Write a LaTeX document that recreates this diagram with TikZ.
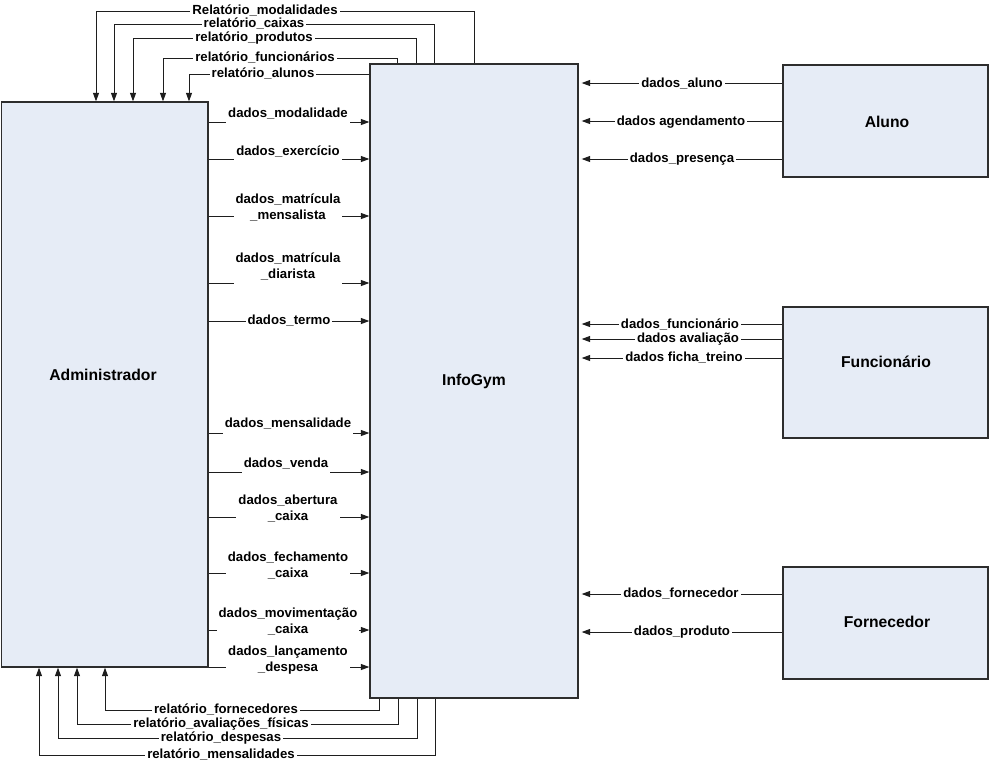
\documentclass[tikz,border=0pt]{standalone}
\usepackage{fontspec}
\setmainfont{Liberation Sans}
\usetikzlibrary{arrows.meta}
\definecolor{boxfill}{RGB}{230,236,246}
\definecolor{boxline}{RGB}{45,45,45}
\definecolor{wire}{RGB}{30,30,30}
\begin{document}
\begin{tikzpicture}[x=1pt,y=-1pt,
  entity/.style={draw=boxline, fill=boxfill, line width=1.3pt, inner sep=0pt},
  entname/.style={font=\fontsize{15.7}{18}\selectfont\bfseries, inner sep=0pt},
  flow/.style={draw=wire, line width=1pt, -{Triangle[length=8.5pt,width=6pt]}},
  lbl/.style={font=\fontsize{13.2}{16}\selectfont\bfseries, fill=white, inner xsep=2pt, inner ysep=0.5pt, anchor=base},
  lbldeep/.style={lbl, text depth=8pt},
  lbltwo/.style={font=\fontsize{13.2}{16}\selectfont\bfseries, fill=white, inner xsep=2pt, inner ysep=4pt, align=center, anchor=center},
]
\useasboundingbox (0,0) rectangle (992,764);

% entities and the system
\node[entity, minimum width=206.5pt, minimum height=565pt] (adm) at (104.75,384.5) {};
\node[entity, minimum width=208pt, minimum height=634pt] (info) at (474,381) {};
\node[entity, minimum width=205pt, minimum height=112pt] (aluno) at (885.5,121) {};
\node[entity, minimum width=205pt, minimum height=131pt] (func) at (885.5,372.5) {};
\node[entity, minimum width=205pt, minimum height=112pt] (forn) at (885.5,623) {};

\node[entname] (admname) at (103,375) {Administrador};
\node[entname] (infoname) at (474,381) {InfoGym};
\node[entname] (alunoname) at (887,121.5) {Aluno};
\node[entname] (funcname) at (886,362) {Funcionário};
\node[entname] (fornname) at (887,622) {Fornecedor};

% Administrador -> InfoGym
\draw[flow] (adm.east |- 0,122) -- (info.west |- 0,122) node[lbldeep] at (288,117) {dados\_modalidade};
\draw[flow] (adm.east |- 0,159) -- (info.west |- 0,159) node[lbldeep] at (288,155) {dados\_exercício};
\draw[flow] (adm.east |- 0,216) -- (info.west |- 0,216) node[lbltwo] at (288,207.5) {dados\_matrícula\\\_mensalista};
\draw[flow] (adm.east |- 0,283) -- (info.west |- 0,283) node[lbltwo] at (288,266.5) {dados\_matrícula\\\_diarista};
\draw[flow] (adm.east |- 0,321) -- (info.west |- 0,321) node[lbl] at (289,324.5) {dados\_termo};
\draw[flow] (adm.east |- 0,433) -- (info.west |- 0,433) node[lbldeep] at (288,427) {dados\_mensalidade};
\draw[flow] (adm.east |- 0,472) -- (info.west |- 0,472) node[lbldeep] at (286,467) {dados\_venda};
\draw[flow] (adm.east |- 0,517) -- (info.west |- 0,517) node[lbltwo] at (288,508.5) {dados\_abertura\\\_caixa};
\draw[flow] (adm.east |- 0,573) -- (info.west |- 0,573) node[lbltwo] at (288,565.5) {dados\_fechamento\\\_caixa};
\draw[flow] (adm.east |- 0,630) -- (info.west |- 0,630) node[lbltwo] at (288,621.5) {dados\_movimentação\\\_caixa};
\draw[flow] (adm.east |- 0,667) -- (info.west |- 0,667) node[lbltwo] at (288,660.5) {dados\_lançamento\\\_despesa};

% external entities -> InfoGym
\draw[flow, shorten >=3pt] (aluno.west |- 0,83) -- (info.east |- 0,83) node[lbl] at (682,87) {dados\_aluno};
\draw[flow, shorten >=3pt] (aluno.west |- 0,121) -- (info.east |- 0,121) node[lbl] at (681,125) {dados agendamento};
\draw[flow, shorten >=3pt] (aluno.west |- 0,159) -- (info.east |- 0,159) node[lbl] at (682,162.5) {dados\_presença};
\draw[flow, shorten >=3pt] (func.west |- 0,324) -- (info.east |- 0,324) node[lbl] at (680,328) {dados\_funcionário};
\draw[flow, shorten >=3pt] (func.west |- 0,339) -- (info.east |- 0,339) node[lbl] at (688,342.5) {dados avaliação};
\draw[flow, shorten >=3pt] (func.west |- 0,358) -- (info.east |- 0,358) node[lbl] at (684,361.5) {dados ficha\_treino};
\draw[flow, shorten >=3pt] (forn.west |- 0,594) -- (info.east |- 0,594) node[lbl] at (681,597.5) {dados\_fornecedor};
\draw[flow, shorten >=3pt] (forn.west |- 0,632) -- (info.east |- 0,632) node[lbl] at (682,635.5) {dados\_produto};

% reports back to Administrador, over the top
\draw[flow] (info.north -| 474,0) -- (474,11) -| (adm.north -| 96,0) node[lbl] at (265,14.5) {Relatório\_modalidades};
\draw[flow] (info.north -| 434,0) -- (434,24) -| (adm.north -| 114,0) node[lbl] at (254,27.5) {relatório\_caixas};
\draw[flow] (info.north -| 416,0) -- (416,38) -| (adm.north -| 133,0) node[lbl] at (254,41.5) {relatório\_produtos};
\draw[flow] (info.north -| 397,0) -- (397,58) -| (adm.north -| 163,0) node[lbl] at (265,61.5) {relatório\_funcionários};
\draw[flow] (info.west |- 0,74) -| (adm.north -| 189,0) node[lbl] at (263,77.5) {relatório\_alunos};

% reports back to Administrador, underneath
\draw[flow] (info.south -| 379,0) -- (379,710) -| (adm.south -| 105,0) node[lbl] at (226,713.5) {relatório\_fornecedores};
\draw[flow] (info.south -| 398,0) -- (398,724) -| (adm.south -| 77,0) node[lbl] at (221,727.5) {relatório\_avaliações\_físicas};
\draw[flow] (info.south -| 417,0) -- (417,738) -| (adm.south -| 58,0) node[lbl] at (221,741.5) {relatório\_despesas};
\draw[flow] (info.south -| 435,0) -- (435,755) -| (adm.south -| 39,0) node[lbl] at (221,758.5) {relatório\_mensalidades};
\end{tikzpicture}
\end{document}
